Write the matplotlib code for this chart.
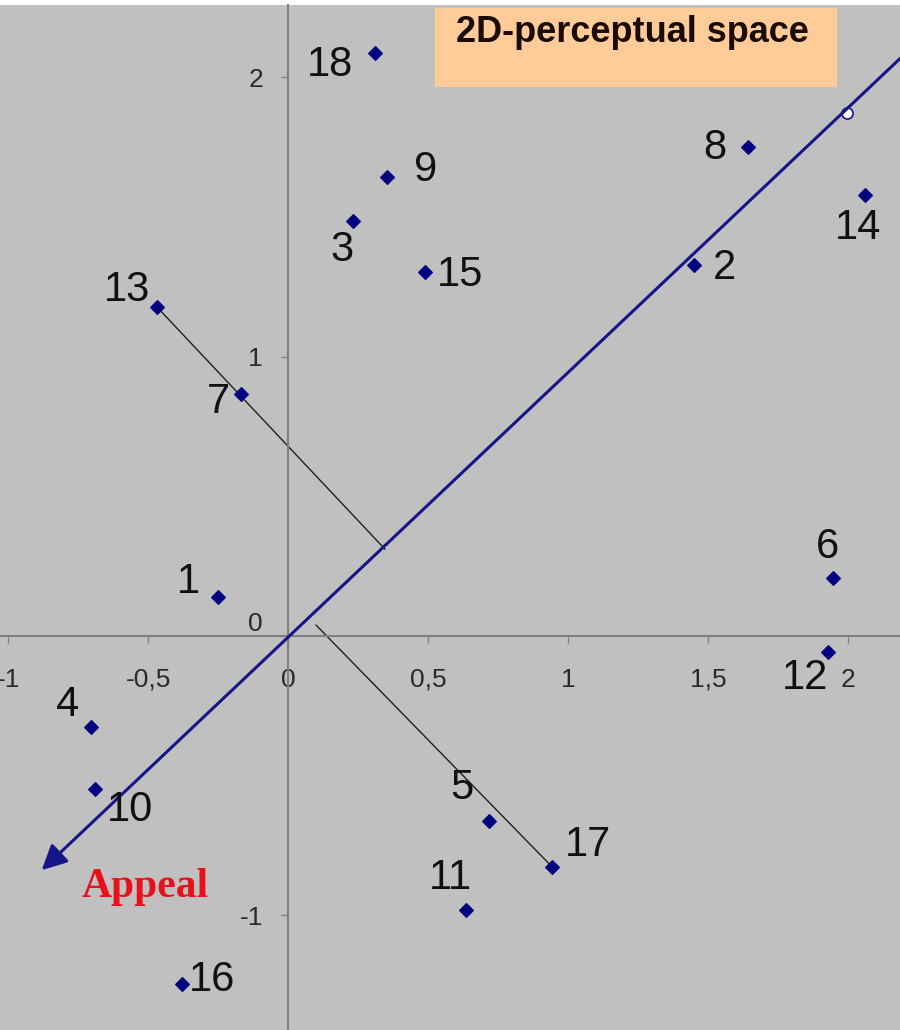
import matplotlib.pyplot as plt
from matplotlib.patches import Rectangle

plt.rcParams['font.family'] = ['Liberation Sans', 'DejaVu Sans']

# stimuli positions in the 2D perceptual space
ids = ['1', '2', '3', '4', '5', '6', '7', '8', '9', '10',
       '11', '12', '13', '14', '15', '16', '17', '18']
xs = [-0.25, 1.45, 0.232, -0.704, 0.718, 1.946, -0.168, 1.643, 0.354, -0.689,
      0.636, 1.929, -0.468, 2.061, 0.489, -0.379, 0.943, 0.311]
ys = [0.14, 1.327, 1.485, -0.326, -0.662, 0.208, 0.866, 1.75, 1.642, -0.547,
      -0.98, -0.057, 1.177, 1.578, 1.302, -1.245, -0.826, 2.086]

# label offsets in pixels (dx right, dy up)
offs = [(-30, 15), (31, -3), (-11, -29), (-23, 22), (-27, 33), (-5, 31), (-23, -8), (-33, -1), (38, 7), (35, -21),
        (-16, 32), (-23, -26), (-30, 17), (-7, -33), (35, -3), (30, 4), (36, 22), (-45, -12)]

# "Appeal" direction (line through origin) and the two projection segments
appeal_end = (2.19, 2.07)
appeal_tip = (-0.88, -0.838)
marker_on_axis = (1.996, 1.873)
proj1_x = [-0.468, 0.346]
proj1_y = [1.177, 0.311]
proj2_x = [0.1, 0.943]
proj2_y = [0.039, -0.826]

xticks = [-1, -0.5, 0, 0.5, 1, 1.5, 2]
xticklabels = ['-1', '-0,5', '0', '0,5', '1', '1,5', '2']
yticks = [-1, 0, 1, 2]
yticklabels = ['-1', '0', '1', '2']

fig = plt.figure(figsize=(9, 10.3), dpi=100)
fig.patch.set_facecolor('white')
ax = fig.add_axes([0, 0, 1, 1025 / 1030])
ax.set_facecolor('#c0c0c0')
ax.set_xlim(-1.029, 2.186)
ax.set_ylim(-1.41, 2.258)

for s in ['top', 'right']:
    ax.spines[s].set_visible(False)
ax.spines['left'].set_position(('data', 0))
ax.spines['bottom'].set_position(('data', 0))
for s in ['left', 'bottom']:
    ax.spines[s].set_color('#808080')
    ax.spines[s].set_linewidth(1.5)

ax.set_xticks(xticks)
ax.set_xticklabels(xticklabels)
ax.set_yticks(yticks)
ax.set_yticklabels(yticklabels)
ax.tick_params(axis='x', direction='out', length=5, width=1, color='#808080',
               labelsize=19, labelcolor='#2a2a2a', pad=18)
ax.tick_params(axis='y', direction='out', length=5, width=1, color='#808080',
               labelsize=19, labelcolor='#2a2a2a', pad=13)
for lab in ax.get_yticklabels():
    if lab.get_text() == '0':
        lab.set_verticalalignment('bottom')

# projection lines
ax.plot(proj1_x, proj1_y, color='#202020', lw=1)
ax.plot(proj2_x, proj2_y, color='#202020', lw=1)

# appeal axis with arrow
ax.annotate('', xy=appeal_tip, xytext=appeal_end,
            arrowprops=dict(arrowstyle='-|>', mutation_scale=38, lw=2.2,
                            color='#16168a', shrinkA=0, shrinkB=0))
ax.plot(*marker_on_axis, 'o', ms=8, mfc='white', mec='#16168a', mew=1.2)

ax.scatter(xs, ys, marker='D', s=48, color='#000080', zorder=5)
for name, x, y, (dx, dy) in zip(ids, xs, ys, offs):
    ax.annotate(name, (x, y), xytext=(dx * 0.72, dy * 0.72), textcoords='offset points',
                ha='center', va='center', fontsize=30, color='#101010')

ax.text(145 / 900, 1 - 882 / 1025, 'Appeal', transform=ax.transAxes, ha='center', va='center',
        fontsize=30, fontweight='bold', color='#e8101a', family='Liberation Serif')

# title box
fig.patches.append(Rectangle((435 / 900, 1 - 87 / 1030), 402 / 900, 79 / 1030,
                             transform=fig.transFigure, facecolor='#ffcc99', edgecolor='none', zorder=1))
fig.text(632 / 900, 1 - 33 / 1030, '2D-perceptual space', ha='center', va='center',
         fontsize=26, fontweight='bold', color='#1a0a00', zorder=2)

fig.savefig('out.png', dpi=100)
